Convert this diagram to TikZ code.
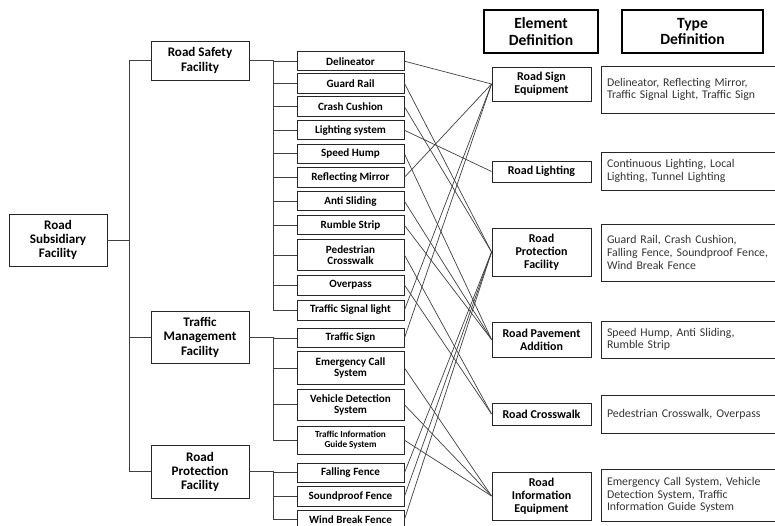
\documentclass[tikz,border=0pt]{standalone}
\usepackage{fontspec}
\setmainfont{Carlito}
\begin{document}
\begin{tikzpicture}[x=1pt,y=-1pt,
  box/.style={draw=black!85,line width=0.9pt,inner sep=0pt,align=center,font=\bfseries\fontsize{13.1}{14.3}\selectfont},
  leaf/.style={box,minimum width=107pt,font=\bfseries\fontsize{11.1}{11.3}\selectfont},
  elem/.style={box,minimum width=99pt,font=\bfseries\fontsize{12}{12.8}\selectfont},
  typ/.style={draw=black!85,line width=0.9pt,minimum width=176pt,text width=166pt,inner xsep=6pt,inner ysep=0pt,align=left,text=black!80,font=\fontsize{11.8}{12.7}\selectfont},
  head/.style={draw=black,line width=2pt,inner sep=0pt,align=center,minimum height=43pt,font=\bfseries\fontsize{15.6}{16.7}\selectfont},
  tree/.style={draw=black!75,line width=0.9pt},
  link/.style={draw=black!75,line width=0.7pt}]
\useasboundingbox (0,0) rectangle (775,526);
% root and level 2
\node[box,minimum width=98pt,minimum height=52pt] (root) at (58,240) {Road\\Subsidiary\\Facility};
\node[box,minimum width=98pt,minimum height=39pt] (rsf) at (200,60.5) {Road Safety\\Facility};
\node[box,minimum width=98pt,minimum height=52.7pt] (tmf) at (200,337.3) {Traffic\\Management\\Facility};
\node[box,minimum width=98pt,minimum height=52.3pt] (rpf) at (200,471.8) {Road\\Protection\\Facility};
% leaves
\node[leaf,minimum height=19pt] (del) at (350.5,61.2) {Delineator};
\node[leaf,minimum height=20pt] (gr) at (350.5,83.3) {Guard Rail};
\node[leaf,minimum height=20pt] (cc) at (350.5,106.7) {Crash Cushion};
\node[leaf,minimum height=19.3pt] (ls) at (350.5,130.3) {Lighting system};
\node[leaf,minimum height=19pt] (sh) at (350.5,153.8) {Speed Hump};
\node[leaf,minimum height=20pt] (rm) at (350.5,177.3) {Reflecting Mirror};
\node[leaf,minimum height=19pt] (as) at (350.5,201.2) {Anti Sliding};
\node[leaf,minimum height=19.3pt] (rs) at (350.5,225.3) {Rumble Strip};
\node[leaf,minimum height=31.4pt] (pc) at (350.5,255) {Pedestrian\\Crosswalk};
\node[leaf,minimum height=20pt] (op) at (350.5,285) {Overpass};
\node[leaf,minimum height=20pt] (tsl) at (350.5,310) {Traffic Signal light};
\node[leaf,minimum height=19.4pt] (ts) at (350.5,338) {Traffic Sign};
\node[leaf,minimum height=32.6pt] (ecs) at (350.5,368) {Emergency Call\\System};
\node[leaf,minimum height=31.7pt] (vds) at (350.5,404.8) {Vehicle Detection\\System};
\node[leaf,minimum height=28.3pt,font=\bfseries\fontsize{9.2}{10}\selectfont] (tig) at (350.5,440.2) {Traffic Information\\Guide System};
\node[leaf,minimum height=19pt] (ff) at (350.5,472.8) {Falling Fence};
\node[leaf,minimum height=19.3pt] (sf) at (350.5,496.3) {Soundproof Fence};
\node[leaf,minimum height=19pt] (wbf) at (350.5,519.5) {Wind Break Fence};
% headers
\node[head,minimum width=114pt] (ed) at (541,31.5) {Element\\Definition};
\node[head,minimum width=141pt] (td) at (692.5,31.5) {Type\\Definition};
% elements
\node[elem,minimum height=34pt] (rse) at (541.5,84) {Road Sign\\Equipment};
\node[elem,minimum height=21pt] (rl) at (541.5,171.5) {Road Lighting};
\node[elem,minimum height=48pt] (rpe) at (541.5,252) {Road\\Protection\\Facility};
\node[elem,minimum height=35pt] (rpa) at (541.5,339.5) {Road Pavement\\Addition};
\node[elem,minimum height=22pt] (rc) at (541.5,414) {Road Crosswalk};
\node[elem,minimum height=48pt] (rie) at (541.5,496) {Road\\Information\\Equipment};
% types
\node[typ,minimum height=47pt] (t1) at (690,89.5) {Delineator, Reflecting Mirror,\\Traffic Signal Light, Traffic Sign};
\node[typ,minimum height=38pt] (t2) at (690,171) {Continuous Lighting, Local\\Lighting, Tunnel Lighting};
\node[typ,minimum height=57pt] (t3) at (690,252.5) {Guard Rail, Crash Cushion,\\Falling Fence, Soundproof Fence,\\Wind Break Fence};
\node[typ,minimum height=37pt] (t4) at (690,339.5) {Speed Hump, Anti Sliding,\\Rumble Strip};
\node[typ,minimum height=38pt] (t5) at (690,414) {Pedestrian Crosswalk, Overpass};
\node[typ,minimum height=52pt] (t6) at (690,495) {Emergency Call System, Vehicle\\Detection System, Traffic\\Information Guide System};
% tree
\coordinate (t) at (129,0);
\coordinate (b) at (273,0);
\draw[tree] (root.east) -- (root.east -| t);
\draw[tree] (rsf.west) -- (rsf.west -| t) -- (rpf.west -| t) -- (rpf.west);
\draw[tree] (tmf.west) -- (tmf.west -| t);
\draw[tree] (rsf.east) -- (rsf.east -| b) -- (tsl.west -| b) -- (tsl.west);
\draw[tree] (tmf.east) -- (tmf.east -| b) -- (tig.west -| b) -- (tig.west);
\draw[tree] (rpf.east) -- (rpf.east -| b) -- (wbf.west -| b) -- (wbf.west);
\foreach \n in {del,gr,cc,ls,sh,rm,as,rs,pc,op,ts,ecs,vds,ff,sf}
  \draw[tree] (\n.west) -- (\n.west -| b);
% links
\foreach \a/\e in {del/rse,rm/rse,tsl/rse,ts/rse,ls/rl,gr/rpe,cc/rpe,ff/rpe,sf/rpe,wbf/rpe,sh/rpa,as/rpa,rs/rpa,pc/rc,op/rc,ecs/rie,vds/rie,tig/rie}
  \draw[link] (\a.east) -- (\e.west);
\end{tikzpicture}
\end{document}
